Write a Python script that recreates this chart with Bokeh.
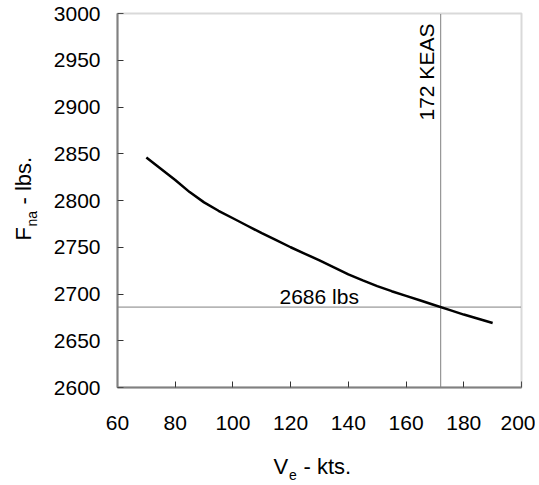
from bokeh.plotting import figure
from bokeh.models import Label, FixedTicker, Range1d, BoxAnnotation
from bokeh.embed import file_html
from bokeh.resources import INLINE
import math

# Data
speed_kts = [70, 75, 80, 85, 90, 95, 100, 105, 110, 115, 120, 125, 130,
             135, 140, 145, 150, 155, 160, 165, 170, 175, 180, 185, 190]
force_lbs = [2846, 2834, 2822, 2809, 2798, 2789, 2781, 2773, 2765, 2757.5, 2750, 2743, 2736,
             2728.5, 2721, 2714.5, 2708.5, 2703, 2698, 2693, 2688, 2683, 2678, 2673.5, 2669]
x_ticks = [60, 80, 100, 120, 140, 160, 180, 200]
y_ticks = [2600, 2650, 2700, 2750, 2800, 2850, 2900, 2950, 3000]
ref_speed = 172
ref_force = 2686

# Layout (pixels on the canvas)
W, H = 535, 484
FL, FR, FT, FB = 117, 521, 13, 387
x0, x1 = x_ticks[0], x_ticks[-1]
y0, y1 = y_ticks[0], y_ticks[-1]
kx = (FR - FL) / (x1 - x0)
ky = (FB - FT) / (y1 - y0)


def px2x(px):
    return x0 + (px - FL) / kx


def px2y(py):
    return y0 + (FB - py) / ky


FONT = "Liberation Sans"
FS = 21
TS = 22
SS = 14
MID = 0.3465  # distance from alphabetic baseline to text middle, in em


def label(px, py, text, size, rotated=False):
    # px, py: left end of the text on its alphabetic baseline (canvas pixels)
    d = MID * size
    if rotated:
        ax, ay = px - d, py
    else:
        ax, ay = px, py - d
    return Label(x=px2x(ax), y=px2y(ay), text=text,
                 angle=math.pi / 2 if rotated else 0,
                 text_align="left", text_baseline="middle",
                 text_font=FONT, text_font_size=f"{size}px", text_color="black")


p = figure(width=W, height=H, output_backend="svg", toolbar_location=None,
           x_range=Range1d(px2x(0), px2x(W)), y_range=Range1d(px2y(H), px2y(0)),
           min_border_left=0, min_border_right=0, min_border_top=0, min_border_bottom=0)
p.grid.visible = False
p.outline_line_color = None
p.background_fill_color = "white"
p.border_fill_color = "white"

p.xaxis.fixed_location = y0
p.xaxis.bounds = (x0, x1)
p.yaxis.fixed_location = x0
p.yaxis.bounds = (y0, y1)
for ax in (p.xaxis[0], p.yaxis[0]):
    ax.axis_line_color = "#808080"
    ax.axis_line_width = 2
    ax.major_tick_in = 6
    ax.major_tick_out = 0
    ax.minor_tick_line_color = None
    ax.major_tick_line_color = "#333333"
    ax.major_label_text_font = FONT
    ax.major_label_text_font_size = f"{FS}px"
    ax.major_label_text_color = "black"
p.xaxis.ticker = FixedTicker(ticks=x_ticks)
p.yaxis.ticker = FixedTicker(ticks=y_ticks)
p.xaxis.major_label_standoff = 28
p.yaxis.major_label_standoff = 17

# plot-area frame
p.add_layout(BoxAnnotation(left=x0, right=x1, bottom=y0, top=y1, fill_alpha=0,
                           line_color="#808080", line_width=2))

# reference lines
p.segment(x0=[ref_speed], y0=[y0], x1=[ref_speed], y1=[y1],
          line_color="black", line_width=1, line_dash="1 1")
p.segment(x0=[x0], y0=[ref_force], x1=[x1], y1=[ref_force],
          line_color="black", line_width=1, line_dash="1 1")

p.line(speed_kts, force_lbs, line_color="black", line_width=2.5)

p.add_layout(label(433, 120, f"{ref_speed} KEAS", FS, rotated=True))
p.add_layout(label(279, 303, f"{ref_force} lbs", FS))

# x axis title: V_e - kts.
p.add_layout(label(273, 474, "V", TS))
p.add_layout(label(288.5, 479, "e", SS))
p.add_layout(label(303, 474, "- kts.", TS))

# y axis title: F_na - lbs.
p.add_layout(label(31, 240, "F", TS, rotated=True))
p.add_layout(label(36, 226, "na", SS, rotated=True))
p.add_layout(label(31, 204, "- lbs.", TS, rotated=True))

open("out.html", "w").write(file_html(p, INLINE))
